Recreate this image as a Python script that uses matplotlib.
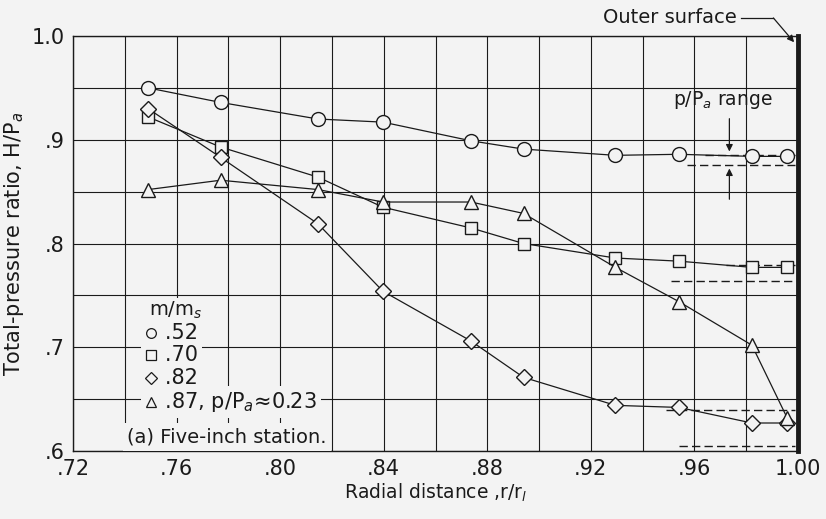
import numpy as np
import matplotlib.pyplot as plt

# radial stations, r/r_l
r = [0.749, 0.777, 0.8146, 0.8397, 0.8737, 0.894, 0.9295, 0.954, 0.9822, 0.9958]

# total-pressure ratio H/P_a for each mass-flow ratio m/m_s
h_52 = [0.950, 0.936, 0.920, 0.917, 0.899, 0.891, 0.885, 0.886, 0.884, 0.884]
h_70 = [0.922, 0.893, 0.864, 0.835, 0.815, 0.800, 0.786, 0.783, 0.777, 0.777]
h_82 = [0.930, 0.883, 0.819, 0.754, 0.706, 0.671, 0.644, 0.642, 0.627, 0.627]
h_87 = [0.852, 0.861, 0.852, 0.840, 0.840, 0.829, 0.777, 0.744, 0.702, 0.632]

labels = ['.52', '.70', '.82', '.87, p/P$_a$\u22480.23']
markers = ['o', 's', 'D', '^']

# p/P_a range dashes (y level, x start)
range_y = [0.885, 0.876, 0.779, 0.764, 0.640, 0.605]
range_x0 = [0.964, 0.957, 0.972, 0.951, 0.949, 0.954]

bgc = '#f3f3f3'
ink = '#1a1a1a'

fig = plt.figure(figsize=(8.26, 5.19), dpi=100, facecolor=bgc)
ax = fig.add_axes([0.0884, 0.131, 0.8777, 0.7996])
ax.set_facecolor(bgc)

sizes = {'o': 10, 's': 9, 'D': 8.5, '^': 10}
for h, m in zip([h_52, h_70, h_82, h_87], markers):
    ax.plot(r, h, color=ink, lw=0.9, marker=m, ms=sizes[m], mfc=bgc,
            mec=ink, mew=1.0, zorder=3)

for y, x0 in zip(range_y, range_x0):
    ax.plot([x0, 0.999], [y, y], color=ink, lw=1.0, ls=(0, (6, 3)), zorder=2)

ax.set_xlim(0.72, 1.00)
ax.set_ylim(0.6, 1.0)
ax.set_xticks(np.arange(0.72, 1.001, 0.04))
ax.set_xticklabels(['.72', '.76', '.80', '.84', '.88', '.92', '.96', '1.00'])
ax.set_yticks([0.6, 0.7, 0.8, 0.9, 1.0])
ax.set_yticklabels(['.6', '.7', '.8', '.9', '1.0'])
ax.set_xticks(np.arange(0.74, 1.0, 0.04), minor=True)
ax.set_yticks(np.arange(0.65, 1.0, 0.1), minor=True)
ax.grid(True, which='both', color=ink, lw=0.8)
ax.tick_params(which='both', length=0, labelsize=15, colors=ink, pad=6)
for s in ax.spines.values():
    s.set_color(ink)
    s.set_linewidth(1.0)
ax.spines['right'].set_linewidth(3.5)

ax.set_xlabel('Radial distance ,r/r$_l$', fontsize=13.5, color=ink, labelpad=2)
ax.set_ylabel('Total-pressure ratio, H/P$_a$', fontsize=15, color=ink, labelpad=4)

# legend block
bg = dict(facecolor=bgc, edgecolor='none', pad=3)
ly = [0.714, 0.693, 0.670, 0.647]
for y, m, lab in zip(ly, markers, labels):
    ax.plot([0.7501], [y], marker=m, ms=7 if m != 'D' else 6, mfc=bgc,
            mec=ink, mew=0.9, ls='none', zorder=6)
    ax.text(0.7478, y, '   ' + lab, fontsize=15, color=ink, va='center',
            bbox=bg, zorder=4)
ax.text(0.7493, 0.736, 'm/m$_s$', fontsize=14, color=ink, va='center',
        bbox=dict(facecolor=bgc, edgecolor='none', pad=1), zorder=5)
ax.text(0.7409, 0.6135, '(a) Five-inch station.', fontsize=14, color=ink,
        va='center', bbox=bg, zorder=4)

# p/Pa range annotation
ax.text(0.971, 0.938, 'p/P$_a$ range', fontsize=13.5, color=ink, ha='center',
        va='center')
ax.annotate('', xy=(0.9735, 0.886), xytext=(0.9735, 0.923),
            arrowprops=dict(arrowstyle='-|>', color=ink, lw=0.9))
ax.annotate('', xy=(0.9735, 0.875), xytext=(0.9735, 0.840),
            arrowprops=dict(arrowstyle='-|>', color=ink, lw=0.9))

# outer surface callout
ax.text(0.9765, 1.0174, 'Outer surface', fontsize=14, color=ink, ha='right',
        va='center')
ax.plot([0.978, 0.9905], [1.0174, 1.0174], color=ink, lw=0.9, clip_on=False)
ax.annotate('', xy=(0.9985, 0.994), xytext=(0.9905, 1.0174),
            annotation_clip=False,
            arrowprops=dict(arrowstyle='-|>', color=ink, lw=0.9,
                            shrinkA=0, shrinkB=0))

fig.savefig('out.png', dpi=100, facecolor=fig.get_facecolor())
